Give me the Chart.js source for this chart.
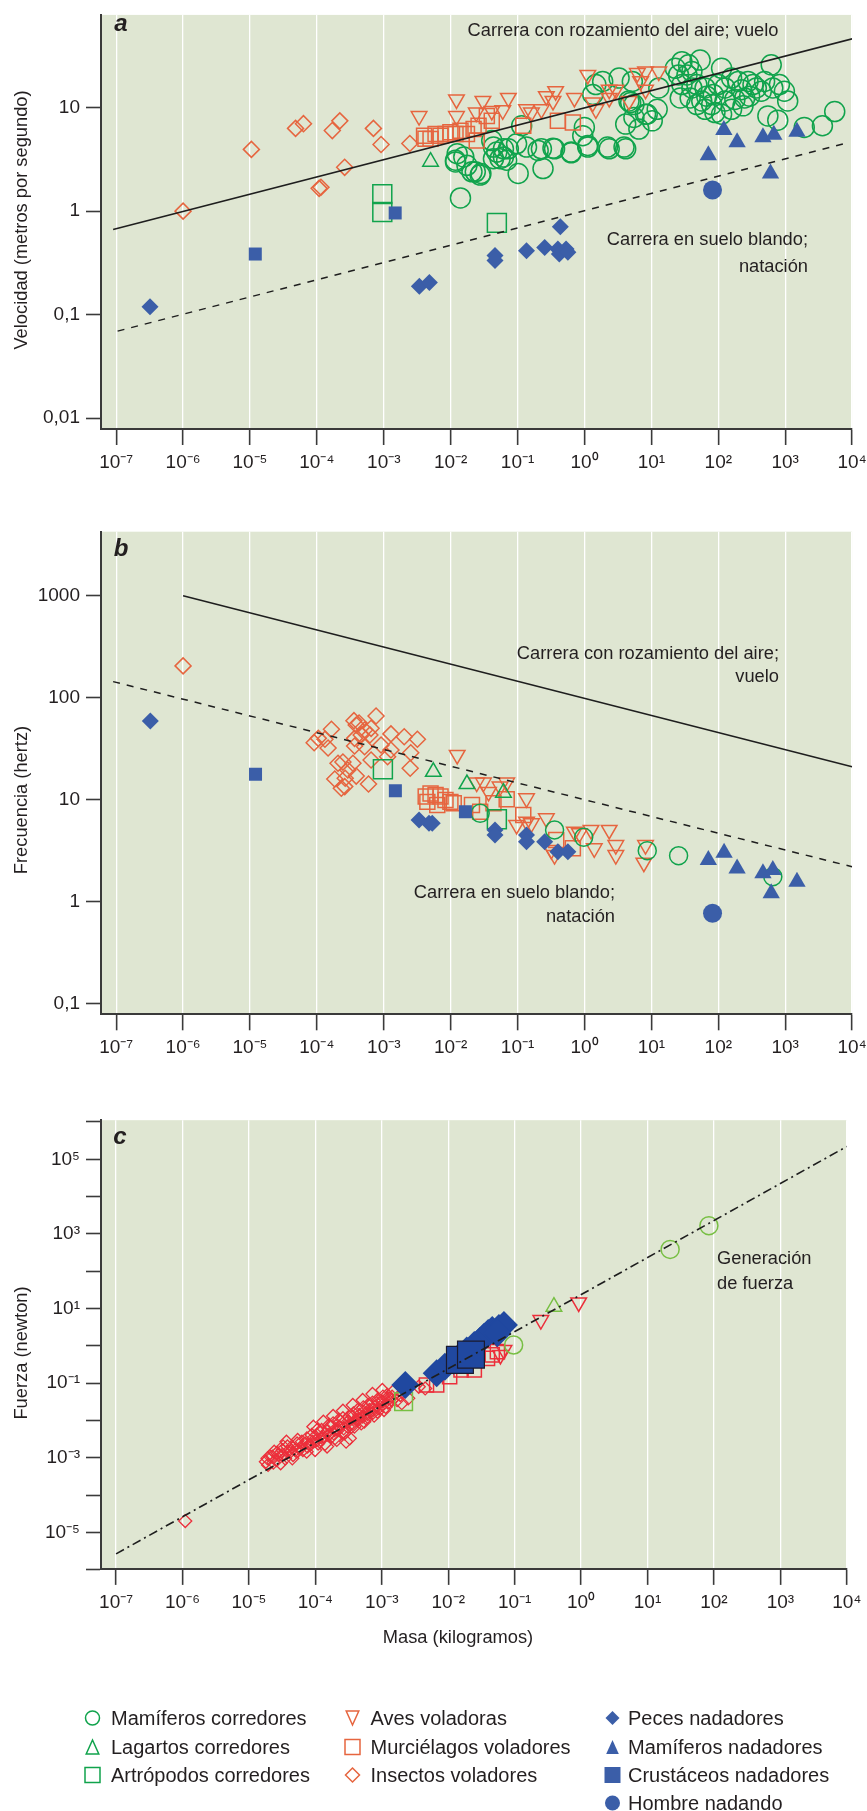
<!DOCTYPE html>
<html><head><meta charset="utf-8">
<script src="https://cdn.jsdelivr.net/npm/chart.js@4.4.1/dist/chart.umd.min.js"></script>
<style>
html,body{margin:0;padding:0;background:#fff;}
#wrap{position:relative;width:867px;height:1811px;overflow:hidden;background:#fff;}
canvas{position:absolute;left:0;}
</style></head><body>
<div id="wrap">
<canvas id="ca" width="867" height="490" style="top:0"></canvas>
<canvas id="cb" width="867" height="590" style="top:490px"></canvas>
<canvas id="cc" width="867" height="731" style="top:1080px"></canvas>
</div>
<script>
// ---------- axis ticks ----------
const massTicks = [1e-7,1e-6,1e-5,1e-4,1e-3,1e-2,1e-1,1,10,100,1000,10000];
const massTickLabels = ['10⁻⁷','10⁻⁶','10⁻⁵','10⁻⁴','10⁻³','10⁻²','10⁻¹','10⁰','10¹','10²','10³','10⁴'];
const speedTicks = [0.01,0.1,1,10];
const speedTickLabels = ['0,01','0,1','1','10'];
const freqTicks = [0.1,1,10,100,1000];
const freqTickLabels = ['0,1','1','10','100','1000'];
const forceTicks = [1e-6,1e-5,1e-4,1e-3,1e-2,1e-1,1,10,100,1e3,1e4,1e5,1e6];
const forceTickLabels = ['','10⁻⁵','','10⁻³','','10⁻¹','','10¹','','10³','','10⁵',''];

// ---------- panel a: speed (m/s) vs mass (kg) ----------
const aMamiferosCorredores = [[0.014,1.34],[0.0118,2.99],[0.0157,3.34],[0.0175,2.77],[0.0233,2.40],[0.0283,2.31],[0.0411,4.81],[0.0489,3.72],[0.0614,4.00],[0.0547,3.21],[0.0687,3.10],[0.0966,4.47],[0.102,2.31],[0.115,6.68],[0.203,3.86],[0.240,2.58],[0.338,4.06],[0.632,3.66],[0.995,6.44],[0.942,5.36],[1.12,4.31],[2.21,4.16],[3.90,4.16],[4.13,6.93],[6.50,6.21],[1.48,16.7],[1.87,17.9],[1.33,13.4],[3.29,19.3],[5.19,17.9],[4.62,11.6],[5.48,10.7],[8.17,8.63],[0.0436,4.16],[0.0125,3.59],[0.0436,3.21],[0.0614,3.34],[0.0728,4.00],[0.136,4.16],[0.227,4.00],[0.357,4.00],[0.632,3.72],[1.12,4.16],[2.34,4.00],[4.13,4.00],[0.0276,2.23],[0.0208,2.40],[0.0118,3.10],[4.90,11.2],[5.48,8.03],[8.66,8.63],[10.3,7.45],[12.2,9.63],[28.6,27.8],[35.9,25.9],[53.5,28.8],[40.3,22.3],[34.0,20.7],[25.5,20.7],[22.8,24.0],[28.6,16.7],[40.3,15.5],[47.8,16.7],[63.4,15.5],[67.1,12.9],[84.1,13.4],[56.6,11.6],[79.6,10.7],[47.8,10.7],[38.0,12.4],[27.0,12.4],[63.4,9.63],[89.1,8.96],[112,8.63],[99.8,16.7],[126,15.5],[158,19.3],[198,17.9],[222,14.9],[278,17.9],[330,16.7],[370,15.5],[248,12.4],[294,12.9],[439,14.4],[492,17.9],[653,15.5],[820,16.7],[973,14.4],[1090,11.6],[618,25.9],[126,11.6],[177,12.0],[158,9.63],[234,10.4],[551,8.32],[774,7.57],[1926,6.44],[3600,6.68],[5500,9.16],[112,24.0],[12.9,15.5]];
const aLagartosCorredores = [[5.0e-3,3.0]];
const aArtropodosCorredores = [[9.5e-4,1.46],[9.5e-4,0.98],[0.049,0.77]];
const aAvesVoladoras = [[3.37e-3,8.3],[0.0122,12.0],[0.0122,8.3],[0.0241,8.96],[0.0303,11.6],[0.0411,9.29],[0.060,9.43],[0.0728,12.4],[0.136,9.63],[0.161,8.96],[0.227,9.63],[0.269,12.9],[0.37,14.4],[0.338,11.6],[0.706,12.4],[1.12,20.7],[1.33,11.2],[1.48,9.63],[2.34,14.9],[2.94,14.9],[2.34,12.4],[4.62,11.6],[6.17,21.6],[8.17,22.3],[12.9,22.3],[6.9,18.0],[8.17,14.9]];
const aMurcielagosVoladores = [[4.0e-3,5.36],[5.0e-3,4.99],[5.94e-3,5.56],[7.05e-3,5.36],[8.36e-3,5.56],[9.9e-3,5.78],[0.0118,5.56],[0.014,5.98],[0.0175,5.56],[0.022,6.21],[0.0261,6.68],[0.0347,8.32],[0.0245,4.81],[0.0411,7.45],[0.1216,6.68],[0.40,7.45],[0.67,7.2],[4.2e-3,5.0]];
const aInsectosVoladores = [[1.0e-6,1.0],[1.05e-5,3.95],[4.8e-5,6.3],[6.3e-5,7.0],[1.7e-4,6.0],[2.2e-4,7.45],[7.0e-4,6.3],[9.1e-4,4.4],[2.45e-3,4.5],[2.6e-4,2.65],[1.08e-4,1.66],[1.15e-4,1.70]];
const aPecesNadadores = [[3.2e-7,0.119],[3.4e-3,0.188],[4.8e-3,0.204],[0.046,0.372],[0.046,0.333],[0.136,0.415],[0.254,0.446],[0.40,0.43],[0.53,0.43],[0.42,0.385],[0.565,0.40],[0.435,0.706]];
const aMamiferosNadadores = [[71,3.46],[121,6.08],[191,4.64],[465,5.18],[676,5.48],[1500,5.85],[603,2.31]];
const aCrustaceosNadadores = [[1.2e-5,0.385],[1.48e-3,0.96]];
const aHombreNadando = [[82,1.6]];
const aLineaAire = [[9.0e-8,0.665],[1e4,46.2]];
const aLineaSuelo = [[1.05e-7,0.0693],[7.5e3,4.47]];

// ---------- panel b: frequency (Hz) vs mass (kg) ----------
const bMamiferosCorredores = [[0.0276,7.34],[0.357,5.04],[0.973,4.27],[8.67,3.16],[25.5,2.82],[653,1.76]];
const bLagartosCorredores = [[5.5e-3,18.7],[0.0175,14.2],[0.0614,11.7]];
const bArtropodosCorredores = [[9.7e-4,19.8],[0.049,6.41]];
const bAvesVoladoras = [[0.0125,27.4],[0.0245,14.7],[0.0309,14.7],[0.0368,11.9],[0.0547,13.4],[0.0687,14.7],[0.136,10.3],[0.0966,5.64],[0.136,6.08],[0.161,5.86],[0.269,6.56],[0.319,3.21],[0.706,4.85],[1.25,5.04],[2.34,5.04],[1.40,3.33],[2.94,3.59],[2.94,2.86],[7.71,2.41],[8.17,3.59],[0.357,2.86],[0.84,4.68]];
const bMurcielagosVoladores = [[4.23e-3,10.7],[5.0e-3,11.5],[5.94e-3,11.1],[7.05e-3,10.7],[8.36e-3,9.9],[9.9e-3,9.5],[0.0111,9.2],[4.48e-3,9.5],[6.3e-3,8.85],[0.0276,7.6],[0.0436,9.2],[0.1216,7.06],[0.378,4.02],[0.67,3.33],[0.0208,8.85],[0.0687,10.1]];
const bInsectosVoladores = [[1.0e-6,204],[9.1e-5,36.1],[1.05e-4,39.8],[1.32e-4,39.0],[1.65e-4,48.9],[3.58e-4,59.3],[3.87e-4,53.8],[5.16e-4,48.1],[4.59e-4,43.0],[3.66e-4,39.8],[6.46e-4,49.9],[7.66e-4,65.9],[1.28e-3,44.0],[2.02e-3,41.3],[3.18e-3,39.0],[3.66e-4,33.5],[5.16e-4,33.0],[9.1e-4,34.3],[1.28e-3,30.6],[2.53e-3,28.8],[3.46e-4,22.7],[2.07e-4,22.7],[6.46e-4,24.4],[1.14e-3,26.3],[2.48e-3,20.3],[1.85e-4,15.9],[2.61e-4,13.4],[2.32e-4,12.9],[3.87e-4,17.0],[5.91e-4,14.2],[2.65e-4,16.2],[2.9e-4,19.5],[2.45e-4,23.3],[1.47e-4,32.0],[4.27e-4,56.2],[6.2e-4,43.0]];
const bPecesNadadores = [[3.24e-7,58.9],[3.37e-3,6.31],[4.74e-3,5.86],[5.3e-3,5.86],[0.046,5.04],[0.046,4.5],[0.136,4.5],[0.136,3.87],[0.254,3.87],[0.40,3.09],[0.565,3.09]];
const bMamiferosNadadores = [[71,2.56],[122,3.02],[191,2.12],[465,1.90],[653,2.04],[618,1.21],[1500,1.57]];
const bCrustaceosNadadores = [[1.21e-5,17.7],[1.49e-3,12.2],[0.0166,7.6]];
const bHombreNadando = [[82,0.77]];
const bLineaAire = [[1e-6,990],[1e4,21]];
const bLineaSuelo = [[9.0e-8,143],[1e4,2.2]];

// ---------- panel c: force (N) vs mass (kg) ----------
const cMamiferosCorredores = [[0.0966,1.05],[21.9,384],[84,1660]];
const cLagartosCorredores = [[0.39,11.2]];
const cArtropodosCorredores = [[2.13e-3,0.0318]];
const cAvesVoladoras = [[0.248,4.9],[0.92,14.5],[0.069,0.77],[0.061,0.57]];
const cMurcielagosVoladores = [[4.7e-3,8.9e-2],[6.7e-3,8.9e-2],[1.56e-2,0.224],[2.47e-2,0.224],[3.9e-2,0.46],[4.6e-2,0.57],[5.5e-2,0.70],[1.05e-2,0.149]];
const cInsectosVoladores = [[1.1e-6,2.0e-5],[1.8e-5,7.8e-4],[2.1e-5,1.07e-3],[2.4e-5,1.45e-3],[2.8e-5,1.18e-3],[3.2e-5,1.6e-3],[3.8e-5,2.0e-3],[3.5e-5,9.6e-4],[4.2e-5,1.45e-3],[5.0e-5,1.6e-3],[5.9e-5,1.8e-3],[5.3e-5,2.4e-3],[7.0e-5,2.4e-3],[8.3e-5,2.2e-3],[9.3e-5,3.3e-3],[1.05e-4,4.1e-3],[1.1e-4,2.4e-3],[1.3e-4,3.7e-3],[1.5e-4,5.0e-3],[1.65e-4,6.8e-3],[1.75e-4,3.7e-3],[1.95e-4,5.5e-3],[2.3e-4,6.8e-3],[2.6e-4,8.3e-3],[2.75e-4,4.5e-3],[3.1e-4,9.2e-3],[3.5e-4,6.8e-3],[3.65e-4,1.26e-2],[4.1e-4,1.03e-2],[4.6e-4,1.4e-2],[4.9e-4,8.3e-3],[5.4e-4,1.7e-2],[5.8e-4,1.14e-2],[6.5e-4,1.9e-2],[7.2e-4,1.55e-2],[7.7e-4,2.3e-2],[8.6e-4,1.7e-2],[9.1e-4,2.9e-2],[1.02e-3,3.2e-2],[1.14e-3,2.3e-2],[1.28e-3,3.9e-2],[1.43e-3,4.3e-2],[1.7e-3,3.5e-2],[1.9e-3,4.8e-2],[2.9e-4,2.7e-3],[3.3e-4,3.3e-3],[7.4e-5,1.45e-3],[1.5e-4,2.0e-3],[2.1e-4,3.0e-3],[3.0e-5,7.1e-4],[4.5e-5,9.6e-4],[2.0e-3,2.9e-2],[2.5e-3,3.9e-2],[3.6e-3,8.0e-2],[4.5e-3,7.2e-2],
  [1.90e-5,9.6e-4],[1.94e-5,6.4e-4],[2.25e-5,1.07e-3],[2.33e-5,7.4e-4],[2.67e-5,1.36e-3],[2.61e-5,8.7e-4],[3.17e-5,1.18e-3],[3.28e-5,1.98e-3],[3.85e-5,1.45e-3],[3.67e-5,2.69e-3],[4.46e-5,1.98e-3],[4.61e-5,1.18e-3],[5.28e-5,1.45e-3],[5.41e-5,2.98e-3],[6.27e-5,2.69e-3],[6.49e-5,1.61e-3],[7.45e-5,3.30e-3],[7.6e-5,1.98e-3],[8.83e-5,4.06e-3],[9.12e-5,2.69e-3],[1.05e-4,2.98e-3],[1.07e-4,5.52e-3],[1.24e-4,5.52e-3],[1.29e-4,3.30e-3],[1.56e-4,4.06e-3],[1.61e-4,7.53e-3],[1.85e-4,8.34e-3],[1.89e-4,4.50e-3],[2.19e-4,5.52e-3],[2.27e-4,1.03e-2],[2.60e-4,1.14e-2],[2.66e-4,6.12e-3],[3.08e-4,6.79e-3],[3.19e-4,1.26e-2],[3.66e-4,8.34e-3],[3.74e-4,1.55e-2],[4.35e-4,1.90e-2],[4.44e-4,1.07e-2],[5.15e-4,1.26e-2],[5.27e-4,2.24e-2],[6.11e-4,1.48e-2],[6.25e-4,2.59e-2],[7.24e-4,2.99e-2],[7.41e-4,1.90e-2],[8.59e-4,3.52e-2],[8.79e-4,2.11e-2],[1.02e-3,2.59e-2],[1.04e-3,4.33e-2],[1.21e-3,4.80e-2],[1.24e-3,2.99e-2],[1.43e-3,3.52e-2],[1.47e-3,5.89e-2],
  [9.33e-5,6.79e-3],[9.9e-5,1.61e-3],[1.32e-4,9.25e-3],[1.39e-4,2.33e-3],[1.85e-4,1.31e-2],[1.96e-4,3.30e-3],[2.60e-4,1.82e-2],[2.75e-4,4.69e-3],[3.66e-4,2.59e-2],[3.87e-4,6.79e-3],[5.15e-4,3.52e-2],[5.45e-4,9.25e-3],[7.24e-4,5.10e-2],[7.67e-4,1.34e-2],[1.02e-3,6.53e-2],[1.08e-3,1.90e-2]];
const cPecesNadadores = [[2.26e-3,8.9e-2],[6.7e-3,0.183],[8.9e-3,0.275],[1.2e-2,0.40],[1.56e-2,0.566],[1.9e-2,0.75],[2.47e-2,1.05],[3.0e-2,1.35],[3.47e-2,1.76],[4.0e-2,2.2],[4.6e-2,2.65],[5.8e-2,3.0],[6.9e-2,3.6],[5.5e-2,2.16]];
const cCrustaceosNadadores = [[1.5e-2,0.42],[2.2e-2,0.58]];
const cLineaFuerza = [[1e-7,2.65e-6],[1e4,2.2e5]];

// ---------- texts ----------
const TXT_LETTER_A = 'a', TXT_LETTER_B = 'b', TXT_LETTER_C = 'c';
const TXT_AIRE = 'Carrera con rozamiento del aire; vuelo';
const TXT_AIRE_1 = 'Carrera con rozamiento del aire;';
const TXT_AIRE_2 = 'vuelo';
const TXT_SUELO_1 = 'Carrera en suelo blando;';
const TXT_SUELO_2 = 'natación';
const TXT_GEN_1 = 'Generación';
const TXT_GEN_2 = 'de fuerza';
const TITLE_A = 'Velocidad (metros por segundo)';
const TITLE_B = 'Frecuencia (hertz)';
const TITLE_C = 'Fuerza (newton)';
const TITLE_X = 'Masa (kilogramos)';
const legendLabels = ['Mamíferos corredores','Lagartos corredores','Artrópodos corredores','Aves voladoras','Murciélagos voladores','Insectos voladores','Peces nadadores','Mamíferos nadadores','Crustáceos nadadores','Hombre nadando'];

// ---------- styling ----------
const FONT = "'Liberation Sans', Arial, Helvetica, sans-serif";
const TXTC = '#231f20';
const AXIS = '#3a3a3a';
const BG = '#dfe6d2';
const GREEN = '#10a34c', ORANGE = '#e6653f', BLUE = '#3b5ea8';
const CRED = '#ec2f3b', CGREEN = '#77bf43', CBLUE = '#2048a0';
const X_MIN = 5.93e-8, X_MAX = 1e4;
Chart.defaults.font.family = FONT;

const pts = arr => arr.map(p => ({x: p[0], y: p[1]}));
function pset(label, arr, st, order) {
  return {label, data: pts(arr), showLine: false, order: order,
    pointStyle: st.shape, pointRadius: st.r, pointRotation: st.rot || 0,
    pointBorderColor: st.stroke, borderColor: st.stroke,
    pointBackgroundColor: st.fill || 'rgba(0,0,0,0)', backgroundColor: st.fill || 'rgba(0,0,0,0)',
    pointBorderWidth: st.bw == null ? 1.5 : st.bw, borderWidth: st.bw == null ? 1.5 : st.bw};
}
function lset(label, arr, dash, width) {
  return {label, data: pts(arr), showLine: true, order: 0, borderColor: '#1e1e1e', borderWidth: width || 1.4,
    borderDash: dash, pointRadius: 0, fill: false, tension: 0};
}

function drawShape(ctx, shape, x, y, s, color, filled) {
  ctx.save(); ctx.beginPath();
  if (shape === 'circle') ctx.arc(x, y, s/2, 0, Math.PI*2);
  else if (shape === 'square') ctx.rect(x - s/2, y - s/2, s, s);
  else if (shape === 'diamond') { ctx.moveTo(x, y - s/2); ctx.lineTo(x + s/2, y); ctx.lineTo(x, y + s/2); ctx.lineTo(x - s/2, y); ctx.closePath(); }
  else if (shape === 'tri') { ctx.moveTo(x, y - s/2); ctx.lineTo(x + s*0.45, y + s/2); ctx.lineTo(x - s*0.45, y + s/2); ctx.closePath(); }
  else if (shape === 'tridown') { ctx.moveTo(x, y + s/2); ctx.lineTo(x + s*0.45, y - s/2); ctx.lineTo(x - s*0.45, y - s/2); ctx.closePath(); }
  if (filled) { ctx.fillStyle = color; ctx.fill(); }
  else { ctx.strokeStyle = color; ctx.lineWidth = 1.5; ctx.stroke(); }
  ctx.restore();
}

function deco(texts, legend) {
  return {
    id: 'deco',
    beforeDraw(chart) {
      const {ctx, chartArea: a} = chart;
      ctx.save(); ctx.fillStyle = BG; ctx.fillRect(a.left, a.top, a.right - a.left, a.bottom - a.top); ctx.restore();
    },
    afterDraw(chart) {
      const ctx = chart.ctx;
      texts.forEach(t => {
        ctx.save();
        ctx.font = t.font; ctx.fillStyle = TXTC; ctx.textAlign = t.align || 'center'; ctx.textBaseline = 'middle';
        if (t.rot) { ctx.translate(t.x, t.y); ctx.rotate(t.rot); ctx.fillText(t.text, 0, 0); }
        else ctx.fillText(t.text, t.x, t.y);
        ctx.restore();
      });
      if (legend) {
        const cols = [[92.5, 111], [352.5, 370.5], [612.5, 628]];
        const rows = [638, 667, 695, 723];
        const items = [
          [0,0,'circle',GREEN,false,14],[0,1,'tri',GREEN,false,14],[0,2,'square',GREEN,false,15],
          [1,0,'tridown',ORANGE,false,14],[1,1,'square',ORANGE,false,15],[1,2,'diamond',ORANGE,false,14],
          [2,0,'diamond',BLUE,true,14],[2,1,'tri',BLUE,true,14],[2,2,'square',BLUE,true,16],[2,3,'circle',BLUE,true,15]];
        items.forEach((it, i) => {
          const [c, r, shape, col, filled, s] = it;
          drawShape(ctx, shape, cols[c][0], rows[r], s, col, filled);
          ctx.save(); ctx.font = '20px ' + FONT; ctx.fillStyle = TXTC; ctx.textAlign = 'left'; ctx.textBaseline = 'middle';
          ctx.fillText(legendLabels[i], cols[c][1], rows[r] + 1); ctx.restore();
        });
      }
    }
  };
}

function options(o) {
  return {
    responsive: false, maintainAspectRatio: false, animation: false, devicePixelRatio: 1, events: [],
    layout: {padding: o.padding},
    plugins: {legend: {display: false}, tooltip: {enabled: false}},
    scales: {
      x: {type: 'logarithmic', position: 'bottom', min: X_MIN, max: X_MAX,
        afterBuildTicks: s => { s.ticks = massTicks.map(v => ({value: v})); },
        afterFit: s => { s.height = o.xHeight; s.paddingLeft = 0; s.paddingRight = 0; },
        ticks: {autoSkip: false, maxRotation: 0, minRotation: 0, padding: 6, color: TXTC,
          font: {family: FONT, size: 19}, callback: (v, i) => massTickLabels[i]},
        grid: {display: true, drawOnChartArea: true, drawTicks: true, color: '#ffffff', lineWidth: 1.3,
          tickColor: AXIS, tickLength: 16, tickWidth: 1.6},
        border: {display: true, color: AXIS, width: 2}
      },
      y: {type: 'logarithmic', position: 'left', min: o.ymin, max: o.ymax,
        afterBuildTicks: s => { s.ticks = o.yTicks.map(v => ({value: v})); },
        afterFit: s => { s.width = 101; s.paddingTop = 0; s.paddingBottom = 0; },
        ticks: {autoSkip: false, padding: 6, color: TXTC, font: {family: FONT, size: 19},
          callback: (v, i) => o.yLabels[i]},
        grid: {display: true, drawOnChartArea: false, drawTicks: true, tickColor: AXIS, tickLength: 15, tickWidth: 1.6},
        border: {display: true, color: AXIS, width: 2}
      }
    }
  };
}

const ANN = '18.3px ' + FONT;
const LET = 'italic bold 24px ' + FONT;
const ROT = -Math.PI / 2;

// sizes (radius in px, Chart.js conventions)
const stA = {
  runMam: {shape: 'circle', r: 10, stroke: GREEN},
  lizard: {shape: 'triangle', r: 9, stroke: GREEN},
  arthro: {shape: 'rect', r: 13.4, stroke: GREEN},
  bird: {shape: 'triangle', r: 9, rot: 180, stroke: ORANGE},
  bat: {shape: 'rect', r: 10.6, stroke: ORANGE},
  insect: {shape: 'rectRot', r: 8, stroke: ORANGE},
  fish: {shape: 'rectRot', r: 8.5, stroke: BLUE, fill: BLUE, bw: 0},
  swimMam: {shape: 'triangle', r: 10, stroke: BLUE, fill: BLUE, bw: 0},
  crust: {shape: 'rect', r: 9.2, stroke: BLUE, fill: BLUE, bw: 0},
  human: {shape: 'circle', r: 9.5, stroke: BLUE, fill: BLUE, bw: 0}
};
const stB = Object.assign({}, stA, {runMam: {shape: 'circle', r: 9, stroke: GREEN}});
const stC = {
  runMam: {shape: 'circle', r: 9, stroke: CGREEN},
  lizard: {shape: 'triangle', r: 9, stroke: CGREEN},
  arthro: {shape: 'rect', r: 12.5, stroke: CGREEN},
  bird: {shape: 'triangle', r: 9, rot: 180, stroke: CRED},
  bat: {shape: 'rect', r: 10, stroke: CRED},
  insect: {shape: 'rectRot', r: 6.5, stroke: CRED, bw: 1.3},
  fish: {shape: 'rectRot', r: 14, stroke: CBLUE, fill: CBLUE, bw: 0},
  crust: {shape: 'rect', r: 19, stroke: '#1a1a2e', fill: CBLUE, bw: 1.2}
};

// ---------- chart a ----------
new Chart(document.getElementById('ca'), {
  type: 'scatter',
  data: {datasets: [
    lset('Carrera con rozamiento del aire; vuelo', aLineaAire, [], 1.5),
    lset('Carrera en suelo blando; natación', aLineaSuelo, [7, 7], 1.5),
    pset('Hombre nadando', aHombreNadando, stA.human, 1),
    pset('Crustáceos nadadores', aCrustaceosNadadores, stA.crust, 2),
    pset('Mamíferos nadadores', aMamiferosNadadores, stA.swimMam, 3),
    pset('Peces nadadores', aPecesNadadores, stA.fish, 4),
    pset('Artrópodos corredores', aArtropodosCorredores, stA.arthro, 5),
    pset('Lagartos corredores', aLagartosCorredores, stA.lizard, 6),
    pset('Insectos voladores', aInsectosVoladores, stA.insect, 7),
    pset('Murciélagos voladores', aMurcielagosVoladores, stA.bat, 8),
    pset('Aves voladoras', aAvesVoladoras, stA.bird, 9),
    pset('Mamíferos corredores', aMamiferosCorredores, stA.runMam, 10)
  ]},
  options: options({padding: {top: 9.3, right: 8.8, left: 0, bottom: 0}, xHeight: 61,
    ymin: 0.00785, ymax: 78.7, yTicks: speedTicks, yLabels: speedTickLabels}),
  plugins: [deco([
    {text: TXT_LETTER_A, x: 121, y: 24, font: LET},
    {text: TXT_AIRE, x: 623, y: 31, font: ANN},
    {text: TXT_SUELO_1, x: 808, y: 240, font: ANN, align: 'right'},
    {text: TXT_SUELO_2, x: 808, y: 267, font: ANN, align: 'right'},
    {text: TITLE_A, x: 22, y: 220, font: ANN, rot: ROT}
  ], false)]
});

// ---------- chart b ----------
new Chart(document.getElementById('cb'), {
  type: 'scatter',
  data: {datasets: [
    lset('Carrera con rozamiento del aire; vuelo', bLineaAire, [], 1.5),
    lset('Carrera en suelo blando; natación', bLineaSuelo, [7, 7], 1.5),
    pset('Hombre nadando', bHombreNadando, stB.human, 1),
    pset('Crustáceos nadadores', bCrustaceosNadadores, stB.crust, 2),
    pset('Mamíferos nadadores', bMamiferosNadadores, stB.swimMam, 3),
    pset('Peces nadadores', bPecesNadadores, stB.fish, 4),
    pset('Artrópodos corredores', bArtropodosCorredores, stB.arthro, 5),
    pset('Lagartos corredores', bLagartosCorredores, stB.lizard, 6),
    pset('Mamíferos corredores', bMamiferosCorredores, stB.runMam, 7),
    pset('Insectos voladores', bInsectosVoladores, stB.insect, 8),
    pset('Murciélagos voladores', bMurcielagosVoladores, stB.bat, 9),
    pset('Aves voladoras', bAvesVoladoras, stB.bird, 10)
  ]},
  options: options({padding: {top: 41.7, right: 8.8, left: 0, bottom: 0}, xHeight: 65.7,
    ymin: 0.0789, ymax: 4207, yTicks: freqTicks, yLabels: freqTickLabels}),
  plugins: [deco([
    {text: TXT_LETTER_B, x: 121, y: 59, font: LET},
    {text: TXT_AIRE_1, x: 779, y: 163.5, font: ANN, align: 'right'},
    {text: TXT_AIRE_2, x: 779, y: 187, font: ANN, align: 'right'},
    {text: TXT_SUELO_1, x: 615, y: 403, font: ANN, align: 'right'},
    {text: TXT_SUELO_2, x: 615, y: 427, font: ANN, align: 'right'},
    {text: TITLE_B, x: 22, y: 310, font: ANN, rot: ROT}
  ], false)]
});

// ---------- chart c ----------
new Chart(document.getElementById('cc'), {
  type: 'scatter',
  data: {datasets: [
    lset('Generación de fuerza', cLineaFuerza, [9, 4, 2, 4], 1.6),
    pset('Crustáceos nadadores', cCrustaceosNadadores, stC.crust, 1),
    pset('Peces nadadores', cPecesNadadores, stC.fish, 2),
    pset('Artrópodos corredores', cArtropodosCorredores, stC.arthro, 3),
    pset('Lagartos corredores', cLagartosCorredores, stC.lizard, 4),
    pset('Mamíferos corredores', cMamiferosCorredores, stC.runMam, 5),
    pset('Aves voladoras', cAvesVoladoras, stC.bird, 6),
    pset('Murciélagos voladores', cMurcielagosVoladores, stC.bat, 7),
    pset('Insectos voladores', cInsectosVoladores, stC.insect, 8)
  ]},
  options: options({padding: {top: 40.2, right: 8.8, left: 0, bottom: 0}, xHeight: 242.1,
    ymin: 1.045e-6, ymax: 1.117e6, yTicks: forceTicks, yLabels: forceTickLabels}),
  plugins: [deco([
    {text: TXT_LETTER_C, x: 120, y: 57, font: LET},
    {text: TXT_GEN_1, x: 717, y: 178.5, font: ANN, align: 'left'},
    {text: TXT_GEN_2, x: 717, y: 203.5, font: ANN, align: 'left'},
    {text: TITLE_C, x: 22, y: 273, font: ANN, rot: ROT},
    {text: TITLE_X, x: 458, y: 558, font: ANN}
  ], true)]
});
</script>
</body></html>
